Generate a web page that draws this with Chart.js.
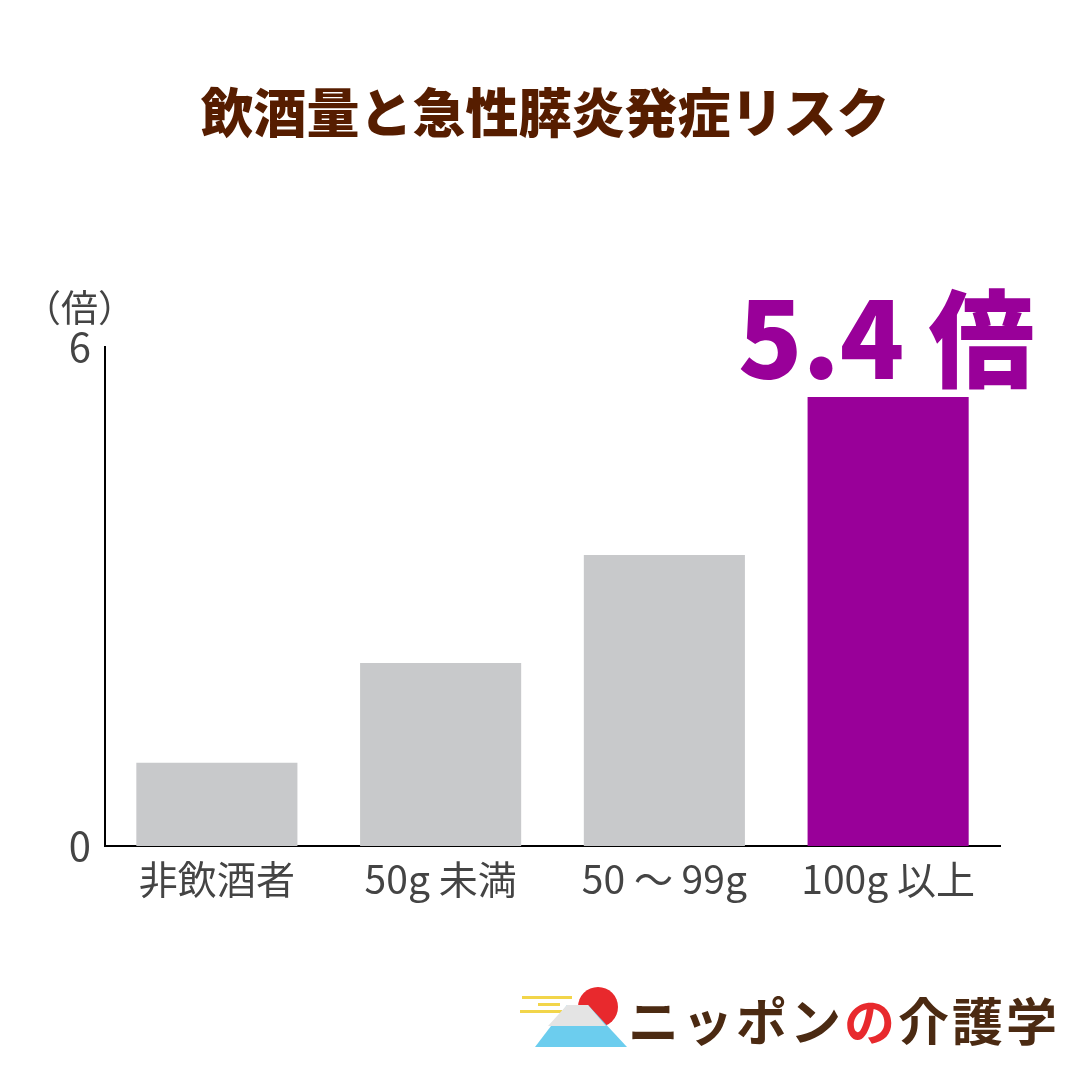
<!DOCTYPE html>
<html lang="ja">
<head>
<meta charset="utf-8">
<title>飲酒量と急性膵炎発症リスク</title>
<script src="https://cdn.jsdelivr.net/npm/chart.js@4/dist/chart.umd.min.js"></script>
<style>
  html, body { margin: 0; padding: 0; background: #fff; }
  #wrap { position: relative; width: 1090px; height: 1090px; overflow: hidden;
    font-family: "Noto Sans CJK JP", "Noto Sans", sans-serif; }
  #chart { position: absolute; left: 0; top: 0; }
  .txt { position: absolute; white-space: nowrap; line-height: 1; }
  #title { left: 0; width: 1090px; top: 84px; text-align: center; font-size: 53px;
    font-weight: 900; color: #561d00; }
  #unit { left: 24px; top: 288px; font-size: 37px; color: #444; }
  #callout { left: 738px; top: 280px; font-size: 106px; font-weight: 900; color: #990099; }
  #logo { left: 628px; top: 994px; font-size: 51px; font-weight: 700; color: #4b2a12; letter-spacing: 3px; }
  #logo .no { color: #e8292d; }
  #mark { position: absolute; left: 518px; top: 984px; }
</style>
</head>
<body>
<div id="wrap">
  <canvas id="chart" width="1090" height="1090"></canvas>
  <div class="txt" id="title">飲酒量と急性膵炎発症リスク</div>
  <div class="txt" id="unit">（倍）</div>
  <div class="txt" id="callout">5.4 倍</div>
  <svg id="mark" width="120" height="66" viewBox="0 0 120 66">
    <rect x="4" y="12" width="50" height="3" fill="#f2d54a"/>
    <rect x="20" y="19" width="22" height="3" fill="#f2d54a"/>
    <rect x="2" y="26" width="42" height="3" fill="#f2d54a"/>
    <circle cx="80" cy="23" r="20" fill="#e8292d"/>
    <polygon points="49,21 70,21 109,63 17,63" fill="#6ccdee"/>
    <polygon points="49,21 70,21 88,42 30,42" fill="#e4e4e4"/>
  </svg>
  <div class="txt" id="logo">ニッポン<span class="no">の</span>介護学</div>
</div>
<script>
  const categories = ['非飲酒者', '50g 未満', '50 ～ 99g', '100g 以上'];
  const riskValues = [1.0, 2.2, 3.5, 5.4];
  const barColors = ['#c8c9cb', '#c8c9cb', '#c8c9cb', '#990099'];
  const yTicks = [0, 6];

  const font = '"Noto Sans CJK JP", "Noto Sans", sans-serif';

  new Chart(document.getElementById('chart'), {
    type: 'bar',
    data: {
      labels: categories,
      datasets: [{
        data: riskValues,
        backgroundColor: barColors,
        categoryPercentage: 1,
        barPercentage: 0.72,
      }],
    },
    options: {
      responsive: false,
      animation: false,
      layout: { padding: { left: 0, right: 90, top: 347, bottom: 184 } },
      plugins: { legend: { display: false }, tooltip: { enabled: false } },
      scales: {
        x: {
          grid: { display: false, drawTicks: false },
          border: { display: true, color: '#000', width: 2 },
          ticks: { color: '#444', font: { family: font, size: 39 }, padding: 10 },
          afterFit: s => { s.height = 60; },
        },
        y: {
          min: 0,
          max: 6,
          afterBuildTicks: s => { s.ticks = yTicks.map(v => ({ value: v })); },
          grid: { display: false, drawTicks: false },
          border: { display: true, color: '#000', width: 2 },
          ticks: { color: '#444', font: { family: font, size: 40 }, padding: 14 },
          afterFit: s => { s.width = 105; },
        },
      },
    },
  });
</script>
</body>
</html>
